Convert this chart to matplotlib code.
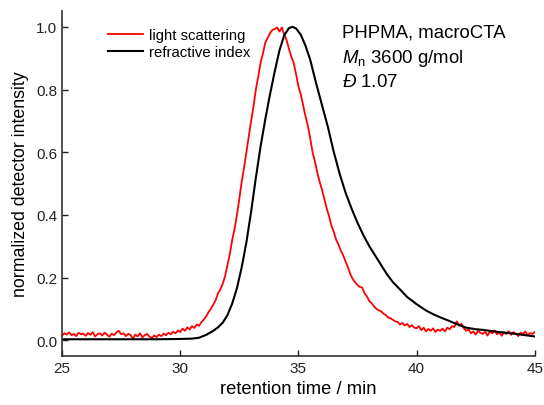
import numpy as np
import matplotlib
matplotlib.use("Agg")
import matplotlib.pyplot as plt

plt.rcParams["font.family"] = ["Liberation Sans", "DejaVu Sans"]
plt.rcParams["mathtext.fontset"] = "custom"
plt.rcParams["mathtext.rm"] = "Liberation Sans"
plt.rcParams["mathtext.it"] = "Liberation Sans:italic"

# light scattering trace, read every 0.1 min from 25 to 45 min
ls_time = np.round(np.arange(25.0, 45.01, 0.1), 2)
ls_signal = [
    0.015, 0.022, 0.018, 0.025, 0.016, 0.020, 0.013, 0.024, 0.019, 0.021,
    0.014, 0.023, 0.017, 0.026, 0.012, 0.019, 0.022, 0.015, 0.024, 0.018,
    0.011, 0.021, 0.016, 0.025, 0.030, 0.019, 0.022, 0.013, 0.020, 0.017,
    0.004, 0.018, 0.012, 0.022, 0.009, 0.016, 0.020, 0.011, 0.007, 0.015,
    0.010, 0.018, 0.013, 0.021, 0.016, 0.024, 0.019, 0.027, 0.022, 0.031,
    0.026, 0.037, 0.030, 0.041, 0.034, 0.045, 0.039, 0.050, 0.046, 0.058,
    0.066, 0.076, 0.090, 0.100, 0.114, 0.128, 0.150, 0.162, 0.180, 0.205,
    0.240, 0.275, 0.320, 0.355, 0.400, 0.450, 0.505, 0.550, 0.600, 0.650,
    0.700, 0.745, 0.800, 0.840, 0.885, 0.915, 0.950, 0.965, 0.980, 0.990,
    0.993, 0.998, 0.985, 0.998, 0.975, 0.958, 0.930, 0.905, 0.885, 0.850,
    0.810, 0.785, 0.750, 0.715, 0.685, 0.645, 0.600, 0.570, 0.535, 0.505,
    0.480, 0.450, 0.420, 0.395, 0.365, 0.345, 0.320, 0.305, 0.285, 0.270,
    0.250, 0.232, 0.210, 0.195, 0.185, 0.176, 0.170, 0.168, 0.150, 0.140,
    0.125, 0.118, 0.108, 0.100, 0.095, 0.092, 0.085, 0.080, 0.072, 0.070,
    0.065, 0.060, 0.058, 0.050, 0.055, 0.047, 0.052, 0.042, 0.048, 0.040,
    0.038, 0.045, 0.032, 0.040, 0.028, 0.036, 0.030, 0.038, 0.026, 0.034,
    0.030, 0.037, 0.028, 0.040, 0.035, 0.045, 0.042, 0.060, 0.048, 0.052,
    0.038, 0.030, 0.035, 0.022, 0.028, 0.018, 0.030, 0.024, 0.020, 0.027,
    0.015, 0.028, 0.022, 0.031, 0.019, 0.026, 0.014, 0.025, 0.020, 0.029,
    0.017, 0.026, 0.021, 0.013, 0.024, 0.019, 0.028, 0.016, 0.023, 0.020,
    0.026,
]

# refractive index trace (smooth)
ri_time = [
    25.0, 27.0, 29.0, 30.0, 30.5, 30.8, 31.1, 31.4, 31.6, 31.8, 32.0,
    32.2, 32.4, 32.6, 32.8, 33.0, 33.2, 33.4, 33.6, 33.8, 34.0,
    34.2, 34.4, 34.6, 34.75, 34.9, 35.1, 35.3, 35.5, 35.75, 36.0, 36.25,
    36.5, 36.75, 37.0, 37.25, 37.5, 37.75, 38.0, 38.25, 38.5, 38.75, 39.0,
    39.3, 39.6, 40.0, 40.4, 40.7, 41.0, 41.4, 41.8, 42.1, 42.5, 42.8,
    43.2, 43.5, 44.0, 44.5, 45.0,
]
ri_signal = [
    0.003, 0.003, 0.003, 0.004, 0.005, 0.008, 0.017, 0.030, 0.041, 0.056, 0.080,
    0.117, 0.166, 0.232, 0.312, 0.410, 0.518, 0.618, 0.705, 0.785, 0.858,
    0.925, 0.973, 0.996, 1.000, 0.995, 0.975, 0.940, 0.895, 0.820, 0.750, 0.680,
    0.600, 0.530, 0.470, 0.420, 0.375, 0.335, 0.300, 0.270, 0.240, 0.210, 0.185,
    0.162, 0.138, 0.115, 0.095, 0.083, 0.073, 0.061, 0.048, 0.040, 0.035, 0.033,
    0.029, 0.026, 0.022, 0.017, 0.012,
]

fig = plt.figure(figsize=(5.44, 4.06), dpi=100)
ax = fig.add_axes([0.114, 0.121, 0.869, 0.849])

ax.plot(ls_time, ls_signal, color="#ff0000", lw=1.3, label="light scattering")
ax.plot(ri_time, ri_signal, color="black", lw=1.5, label="refractive index")

ax.set_xlim(25, 45)
ax.set_ylim(-0.05, 1.05)
ax.set_xticks([25, 30, 35, 40, 45])
ax.set_yticks([0.0, 0.2, 0.4, 0.6, 0.8, 1.0])
ax.set_yticklabels(["0.0", "0.2", "0.4", "0.6", "0.8", "1.0"])
ax.tick_params(direction="in", length=4, width=1, labelsize=11, colors="#222222")
ax.spines["top"].set_visible(False)
ax.spines["right"].set_visible(False)
for s in ["left", "bottom"]:
    ax.spines[s].set_linewidth(1.2)
    ax.spines[s].set_color("#333333")

ax.set_xlabel("retention time / min", fontsize=13.2, labelpad=4)
ax.set_ylabel("normalized detector intensity", fontsize=12.8, labelpad=5)

ax.legend(loc="upper left", bbox_to_anchor=(0.07, 0.99), frameon=False,
          fontsize=10.7, handlelength=2.3, handletextpad=0.4, labelspacing=0.2)

ax.text(0.593, 0.965, "PHPMA, macroCTA", transform=ax.transAxes, fontsize=13.4, va="top")
ax.text(0.593, 0.895, r"$M_\mathrm{n}$ 3600 g/mol", transform=ax.transAxes, fontsize=13.4, va="top")
ax.text(0.593, 0.82, r"$\mathit{Đ}$ 1.07", transform=ax.transAxes, fontsize=13.4, va="top")

fig.savefig("out.png", dpi=100)
plt.close(fig)
